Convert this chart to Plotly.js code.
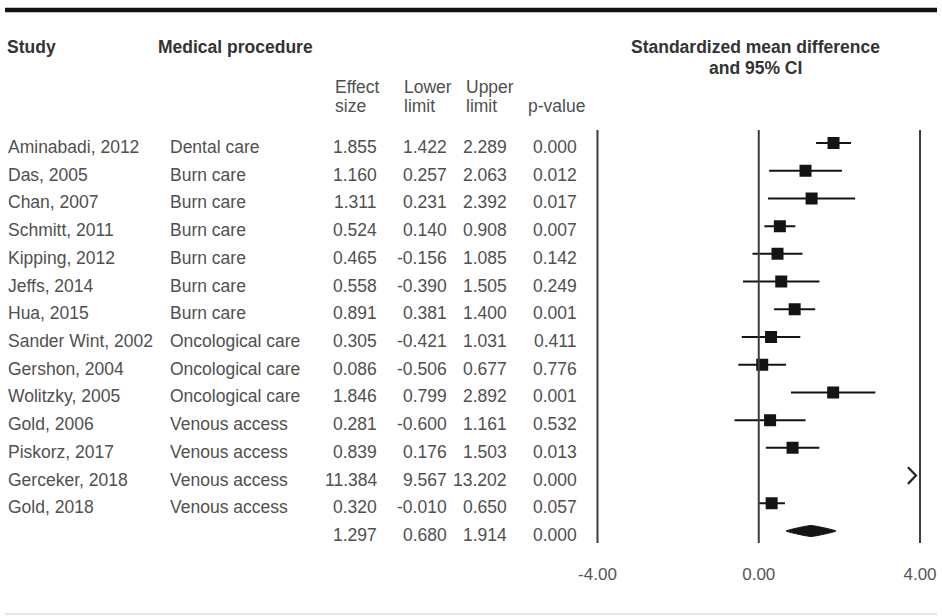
<!DOCTYPE html>
<html>
<head>
<meta charset="utf-8">
<script src="https://cdn.plot.ly/plotly-3.0.1.min.js"></script>
<style>html,body{margin:0;padding:0;background:#fff;}#chart{width:942px;height:616px;}</style>
</head>
<body>
<div id="chart"></div>
<script>
// ---- data ----
const studies = ["Aminabadi, 2012","Das, 2005","Chan, 2007","Schmitt, 2011","Kipping, 2012","Jeffs, 2014","Hua, 2015","Sander Wint, 2002","Gershon, 2004","Wolitzky, 2005","Gold, 2006","Piskorz, 2017","Gerceker, 2018","Gold, 2018"];
const procedures = ["Dental care","Burn care","Burn care","Burn care","Burn care","Burn care","Burn care","Oncological care","Oncological care","Oncological care","Venous access","Venous access","Venous access","Venous access"];
const effectSize = [1.855,1.160,1.311,0.524,0.465,0.558,0.891,0.305,0.086,1.846,0.281,0.839,11.384,0.320];
const lowerLimit = [1.422,0.257,0.231,0.140,-0.156,-0.390,0.381,-0.421,-0.506,0.799,-0.600,0.176,9.567,-0.010];
const upperLimit = [2.289,2.063,2.392,0.908,1.085,1.505,1.400,1.031,0.677,2.892,1.161,1.503,13.202,0.650];
const pValue = [0.000,0.012,0.017,0.007,0.142,0.249,0.001,0.411,0.776,0.001,0.532,0.013,0.000,0.057];
const summaryEffect = 1.297, summaryLower = 0.680, summaryUpper = 1.914, summaryP = 0.000;
const tickVals = [-4, 0, 4];
const tickText = ["-4.00", "0.00", "4.00"];

// ---- layout helpers ----
const W = 942, H = 616;
const px = x => x / W;
const py = y => 1 - y / H;
const XMIN = -4.3, XMAX = 4.3;
const rows = studies.map((_, i) => i + 1);
const sumRow = studies.length + 1;
const txt = '#505050', hdr = '#333333', ink = '#141414';
const FONT = 'Liberation Sans, Arial, Helvetica, sans-serif';

const traces = [];
// CI lines (only those within axis range)
const inRange = rows.map((r, i) => effectSize[i] <= XMAX);
const ciX = [], ciY = [];
rows.forEach((r, i) => { if (inRange[i]) { ciX.push(lowerLimit[i], upperLimit[i], null); ciY.push(r, r, null); } });
traces.push({type:'scatter', mode:'lines', x:ciX, y:ciY, line:{color:ink, width:2}, hoverinfo:'skip'});
// squares
traces.push({type:'scatter', mode:'markers',
  x: effectSize.filter((v, i) => inRange[i]), y: rows.filter((r, i) => inRange[i]),
  marker:{symbol:'square', size:12, color:ink}, hoverinfo:'skip'});
// arrows for out-of-range studies
const arX = [], arY = [];
rows.forEach((r, i) => { if (!inRange[i]) { arX.push(XMAX - 0.6, XMAX - 0.4, XMAX - 0.6, null); arY.push(r - 0.3, r, r + 0.3, null); } });
traces.push({type:'scatter', mode:'lines', x:arX, y:arY, line:{color:'#222', width:2.2}, hoverinfo:'skip'});
// summary diamond
const dh = 0.2;
traces.push({type:'scatter', mode:'lines', fill:'toself', fillcolor:ink,
  x:[summaryLower, summaryEffect, summaryUpper, summaryEffect, summaryLower],
  y:[sumRow, sumRow - dh, sumRow, sumRow + dh, sumRow],
  line:{color:ink, width:1, shape:'spline', smoothing:0.4}, hoverinfo:'skip'});

// ---- annotations ----
const ann = [];
const tf = {family:FONT, size:17.5, color:txt};
const cell = (x, y, t, anchor) => ann.push({xref:'paper', yref:'y', x:px(x), y:y, yshift:-4, text:t, showarrow:false, xanchor:anchor, yanchor:'middle', font:tf});
rows.forEach((r, i) => {
  cell(6, r, studies[i], 'left');
  cell(168, r, procedures[i], 'left');
  cell(379, r, effectSize[i].toFixed(3), 'right');
  cell(449, r, lowerLimit[i].toFixed(3), 'right');
  cell(509, r, upperLimit[i].toFixed(3), 'right');
  cell(579, r, pValue[i].toFixed(3), 'right');
});
cell(379, sumRow, summaryEffect.toFixed(3), 'right');
cell(449, sumRow, summaryLower.toFixed(3), 'right');
cell(509, sumRow, summaryUpper.toFixed(3), 'right');
cell(579, sumRow, summaryP.toFixed(3), 'right');

const head = (x, y, t, anchor, bold) => ann.push({xref:'paper', yref:'paper', x:px(x), y:py(y), text:bold ? '<b>' + t + '</b>' : t, showarrow:false, xanchor:anchor, yanchor:'middle', align:'center', font:{family:FONT, size:bold ? 17.5 : 17.5, color:bold ? hdr : txt}});
head(5, 47, 'Study', 'left', true);
head(156, 47, 'Medical procedure', 'left', true);
head(755, 47, 'Standardized mean difference', 'center', true);
head(755, 68, 'and 95% CI', 'center', true);
head(333, 87, 'Effect', 'left', false);
head(333, 106, 'size', 'left', false);
head(402, 87, 'Lower', 'left', false);
head(402, 106, 'limit', 'left', false);
head(464, 87, 'Upper', 'left', false);
head(464, 106, 'limit', 'left', false);
head(526, 106, 'p-value', 'left', false);

// ---- shapes ----
const shapes = [];
tickVals.forEach(v => shapes.push({type:'line', xref:'x', yref:'y', x0:v, x1:v, y0:0.53, y1:sumRow + 0.43, line:{color:'#3c3c3c', width:2}}));
shapes.push({type:'line', xref:'paper', yref:'paper', x0:px(5), x1:px(937), y0:py(10), y1:py(10), line:{color:'#111', width:4.5}});
shapes.push({type:'line', xref:'paper', yref:'paper', x0:px(5), x1:px(937), y0:py(614), y1:py(614), line:{color:'#e4e4e4', width:2}});

// y mapping: row 1 at px 143, spacing 27.714px, y-domain bottom at px 556
const rowPx = 27.714, row1Px = 143, bottomPx = 556;
const yTop = 1 - row1Px / rowPx;
const yBot = yTop + bottomPx / rowPx;

const layout = {
  width:W, height:H, margin:{l:0, r:0, t:0, b:0},
  paper_bgcolor:'#fff', plot_bgcolor:'rgba(0,0,0,0)', showlegend:false,
  xaxis:{domain:[585.4 / W, 932.1 / W], range:[XMIN, XMAX], tickvals:tickVals, ticktext:tickText,
    showgrid:false, zeroline:false, showline:false, ticks:'', ticklabelstandoff:6,
    tickfont:{family:FONT, size:17, color:'#555'}, fixedrange:true},
  yaxis:{domain:[1 - bottomPx / H, 1], range:[yBot, yTop], showgrid:false, zeroline:false,
    showline:false, showticklabels:false, ticks:'', fixedrange:true},
  annotations:ann, shapes:shapes
};
Plotly.newPlot('chart', traces, layout, {displayModeBar:false, staticPlot:true});
</script>
</body>
</html>
